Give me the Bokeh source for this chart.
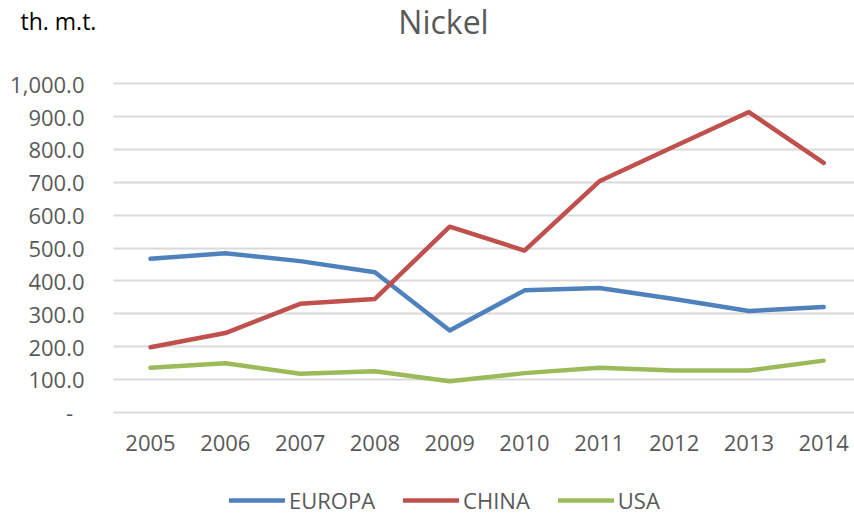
from bokeh.plotting import figure
from bokeh.models import Label, Legend, LegendItem, Range1d, FixedTicker, NumeralTickFormatter
from bokeh.embed import file_html
from bokeh.resources import INLINE

years = [2005, 2006, 2007, 2008, 2009, 2010, 2011, 2012, 2013, 2014]
europa = [467, 484, 460, 426, 249, 371, 378, 345, 308, 320]
china = [198, 241, 330, 345, 565, 492, 703, 809, 914, 759]
usa = [135, 149, 117, 125, 94, 119, 135, 127, 127, 157]
y_ticks = [0, 100, 200, 300, 400, 500, 600, 700, 800, 900, 1000]
series_names = ["EUROPA", "CHINA", "USA"]
series_values = [europa, china, usa]
colors = ["#4F81BD", "#C0504D", "#9BBB59"]
title_text = "Nickel"
unit_text = "th. m.t."

FONT = "Open Sans"
GREY = "#595959"
W, H = 854, 515
LINE_W = 4.5

# frame covers the whole canvas; axes are pinned at fixed locations
X0, X1 = 2002.9947, 2014.4118
Y0, Y1 = -314.55, 1253.65
AXIS_X = 2004.5053  # left edge of the plotting area (data units)

p = figure(width=W, height=H, output_backend="svg", toolbar_location=None,
           x_range=Range1d(X0, X1), y_range=Range1d(Y0, Y1),
           min_border_left=0, min_border_right=0, min_border_top=0, min_border_bottom=0)
p.outline_line_color = None
p.xgrid.grid_line_color = None
p.ygrid.grid_line_color = "#D9D9D9"
p.ygrid.grid_line_width = 2
p.ygrid.ticker = FixedTicker(ticks=y_ticks)
g = p.ygrid[0]
if "cross_bounds" in g.properties():
    g.cross_bounds = (AXIS_X, X1)

p.yaxis.ticker = FixedTicker(ticks=y_ticks)
p.yaxis.formatter = NumeralTickFormatter(format="0,0.0")
p.yaxis.major_label_overrides = {0: "-\u00a0\u00a0"}
p.yaxis.fixed_location = AXIS_X
p.xaxis.ticker = FixedTicker(ticks=years)
p.xaxis.fixed_location = 0
for ax in (p.xaxis, p.yaxis):
    ax.axis_line_color = None
    ax.major_tick_line_color = None
    ax.minor_tick_line_color = None
    ax.major_tick_out = 0
    ax.major_tick_in = 0
    ax.minor_tick_out = 0
    ax.minor_tick_in = 0
    ax.major_label_text_font = FONT
    ax.major_label_text_font_size = "22px"
    ax.major_label_text_color = GREY
p.yaxis.major_label_standoff = 29
p.xaxis.major_label_standoff = 23

renderers = []
for vals, c in zip(series_values, colors):
    renderers.append(p.line(years, vals, line_color=c, line_width=LINE_W,
                            line_cap="round", line_join="round"))

legend = Legend(items=[LegendItem(label=n, renderers=[r]) for n, r in zip(series_names, renderers)],
                orientation="horizontal", location=(229, 0), border_line_color=None,
                background_fill_alpha=0, padding=0, margin=0, spacing=28,
                glyph_width=56, glyph_height=26, label_standoff=4, label_height=26,
                label_text_font=FONT, label_text_font_size="22px", label_text_color=GREY)
p.add_layout(legend, "center")

p.add_layout(Label(x=443, y=H - 21, x_units="screen", y_units="screen", text=title_text,
                   text_font=FONT, text_font_size="32px", text_color=GREY,
                   text_align="center", text_baseline="alphabetic"))
p.add_layout(Label(x=20, y=H - 20, x_units="screen", y_units="screen", text=unit_text,
                   text_font=FONT, text_font_size="23px", text_color="#000000",
                   text_align="left", text_baseline="alphabetic"))

open("out.html", "w").write(file_html(p, INLINE))
